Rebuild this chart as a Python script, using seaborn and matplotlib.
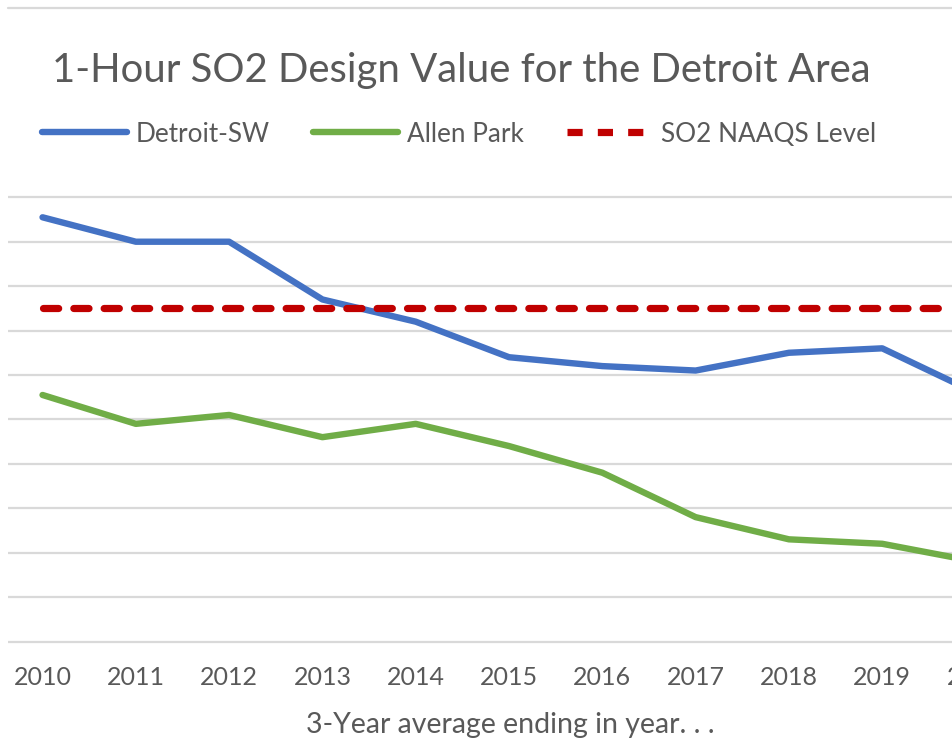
import numpy as np
import pandas as pd
import matplotlib
matplotlib.use("Agg")
import matplotlib.pyplot as plt
import seaborn as sns
from matplotlib.lines import Line2D

# data (ppb)
years = [2010, 2011, 2012, 2013, 2014, 2015, 2016, 2017, 2018, 2019, 2020]
detroit_sw = [95.5, 90, 90, 77, 72, 64, 62, 61, 65, 66, 56]
allen_park = [55.5, 49, 51, 46, 49, 44, 38, 28, 23, 22, 18]
naaqs = [75] * len(years)

series_names = ["Detroit-SW", "Allen Park", "SO2 NAAQS Level"]
colors = ["#4472C4", "#70AD47", "#C00000"]

sns.set_theme(style="white")
plt.rcParams["font.family"] = ["Lato", "DejaVu Sans"]
text_col = "#595959"
grid_col = "#D9D9D9"

W, H = 952, 741
fig = plt.figure(figsize=(W / 100, H / 100), dpi=100)

# plot area: partly outside the figure on the right (cropped screenshot)
step = 93.3
ppu = 4.442
ax_left = 8
ax_w = 11 * step
ax_bottom = 641.5 + 0.5 * ppu
ax_h = 101 * ppu
ax = fig.add_axes([ax_left / W, (H - ax_bottom) / H, ax_w / W, ax_h / H])

idx = np.arange(len(years))
df = pd.DataFrame({"idx": idx, "Detroit-SW": detroit_sw,
                   "Allen Park": allen_park, "SO2 NAAQS Level": naaqs})

sns.lineplot(data=df, x="idx", y="Detroit-SW", ax=ax, color=colors[0],
             lw=4.6, solid_capstyle="round", solid_joinstyle="round", zorder=3)
sns.lineplot(data=df, x="idx", y="Allen Park", ax=ax, color=colors[1],
             lw=4.6, solid_capstyle="round", solid_joinstyle="round", zorder=3)
sns.lineplot(data=df, x="idx", y="SO2 NAAQS Level", ax=ax, color=colors[2],
             lw=5.2, dashes=False, zorder=4)
ax.lines[-1].set_dashes((2.1, 2.1))
ax.lines[-1].set_dash_capstyle("round")

ax.set_xlim(-0.37, 10.63)
ax.set_ylim(-0.5, 100.5)
ax.set_yticks(np.arange(0, 101, 10))
ax.set_yticklabels([])
ax.set_xticks(idx)
ax.set_xticklabels([str(y) for y in years])
ax.tick_params(axis="x", length=0, pad=16, labelsize=18, labelcolor=text_col)
ax.tick_params(axis="y", length=0)
ax.yaxis.grid(True, color=grid_col, lw=1.6)
ax.xaxis.grid(False)
for s in ax.spines.values():
    s.set_visible(False)
ax.set_xlabel("")
ax.set_ylabel("")

# chart border line at the top
fig.add_artist(Line2D([8 / W, 1], [1 - 8 / H, 1 - 8 / H], color=grid_col, lw=1.6))

fig.text(461 / W, 1 - 82 / H, "1-Hour SO2 Design Value for the Detroit Area",
         ha="center", va="baseline", fontsize=28.9, color=text_col)
fig.text(510 / W, 1 - 733 / H, "3-Year average ending in year. . .",
         ha="center", va="baseline", fontsize=20.5, color=text_col)

handles = [Line2D([], [], color=colors[0], lw=4.6, solid_capstyle="round"),
           Line2D([], [], color=colors[1], lw=4.6, solid_capstyle="round"),
           Line2D([], [], color=colors[2], lw=5.2, dashes=(2.1, 2.1))]
fig.legend(handles, series_names, loc="center left",
           bbox_to_anchor=(42 / W, 1 - 134 / H), ncol=3, frameon=False,
           borderpad=0, borderaxespad=0, handlelength=3.25, handletextpad=0.35,
           columnspacing=1.65, fontsize=18.8, labelcolor=text_col)

fig.savefig("out.png", dpi=100)
